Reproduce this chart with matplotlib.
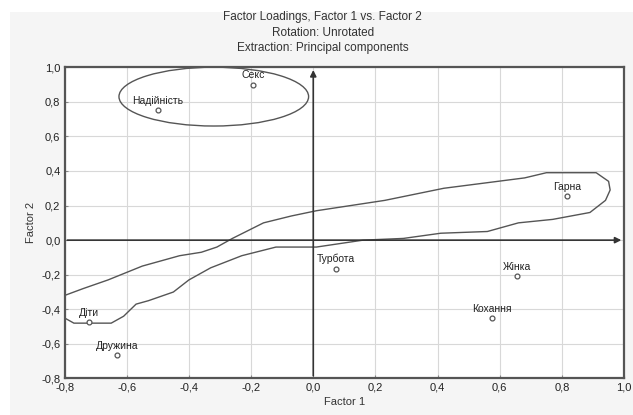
import numpy as np
import matplotlib.pyplot as plt
from matplotlib.patches import Ellipse, Rectangle

plt.rcParams['font.family'] = ['Liberation Sans', 'DejaVu Sans']

# factor loadings
nomes = ['Секс', 'Надійність', 'Гарна', 'Турбота', 'Жінка', 'Кохання', 'Діти', 'Дружина']
f1 = np.array([-0.194, -0.50, 0.815, 0.073, 0.654, 0.576, -0.72, -0.631])
f2 = np.array([0.90, 0.75, 0.254, -0.164, -0.208, -0.45, -0.472, -0.665])

# hand-drawn loop around the diagonal group
laco_x = [-0.82, -0.80, -0.74, -0.66, -0.55, -0.43, -0.36, -0.31, -0.26, -0.16, -0.07, 0.01,
          0.12, 0.23, 0.42, 0.55, 0.68, 0.75, 0.91, 0.95, 0.955, 0.94, 0.89, 0.77, 0.66,
          0.56, 0.41, 0.29, 0.16, 0.01, -0.12, -0.23, -0.33, -0.40, -0.45, -0.53, -0.57,
          -0.61, -0.65, -0.71, -0.77, -0.80, -0.82, -0.82]
laco_y = [-0.33, -0.32, -0.28, -0.23, -0.15, -0.09, -0.07, -0.04, 0.01, 0.10, 0.14, 0.17,
          0.20, 0.23, 0.30, 0.33, 0.36, 0.39, 0.39, 0.34, 0.29, 0.23, 0.16, 0.12, 0.10,
          0.05, 0.04, 0.01, 0.00, -0.04, -0.04, -0.09, -0.16, -0.23, -0.30, -0.35, -0.37,
          -0.44, -0.48, -0.48, -0.48, -0.45, -0.42, -0.33]

xticks = np.round(np.arange(-0.8, 1.01, 0.2), 1) + 0.0
yticks = np.round(np.arange(-0.8, 1.01, 0.2), 1) + 0.0

fig = plt.figure(figsize=(6.33, 4.15), dpi=100, facecolor='white')
fig.patches.append(Rectangle((10/633, 0), 1, 1 - 12/415, transform=fig.transFigure,
                             facecolor='#f5f5f5', edgecolor='none', zorder=-10))
ax = fig.add_axes([0.102, 0.088, 0.884, 0.750])
ax.set_facecolor('white')

ax.set_xlim(-0.8, 1.0)
ax.set_ylim(-0.8, 1.0)
ax.set_xticks(xticks)
ax.set_yticks(yticks)
ax.set_xticklabels([f'{v:.1f}'.replace('.', ',') for v in xticks])
ax.set_yticklabels([f'{v:.1f}'.replace('.', ',') for v in yticks])
ax.tick_params(direction='in', length=2, color='#888888', labelsize=8, labelcolor='#222222', pad=3)
ax.grid(True, color='#d8d8d8', lw=0.8)
ax.set_axisbelow(True)
for s in ax.spines.values():
    s.set_color('#555555')
    s.set_linewidth(1.6)

# eixos com setas
ax.annotate('', xy=(1.0, 0), xytext=(-0.8, 0),
            arrowprops=dict(arrowstyle='-|>', color='#333333', lw=1.2, mutation_scale=9))
ax.annotate('', xy=(0, 1.0), xytext=(0, -0.8),
            arrowprops=dict(arrowstyle='-|>', color='#333333', lw=1.2, mutation_scale=9))

ax.plot(laco_x, laco_y, color='#555555', lw=1.0)
ax.add_patch(Ellipse((-0.32, 0.83), 0.61, 0.34, fill=False, edgecolor='#555555', lw=1.0))

ax.plot(f1, f2, 'o', ms=3.5, mfc='white', mec='#555555', mew=0.9)
for n, x, y in zip(nomes, f1, f2):
    ax.annotate(n, (x, y), xytext=(0, 3), textcoords='offset points', ha='center', va='bottom',
                fontsize=7.5, color='#222222')

fig.text(0.51, 0.96, 'Factor Loadings, Factor 1 vs. Factor 2', ha='center', va='center',
         fontsize=8.5, color='#333333')
fig.text(0.51, 0.921, 'Rotation: Unrotated', ha='center', va='center', fontsize=8.5, color='#333333')
fig.text(0.51, 0.884, 'Extraction: Principal components', ha='center', va='center',
         fontsize=8.5, color='#333333')
ax.set_xlabel('Factor 1', fontsize=8, color='#333333', labelpad=3)
ax.set_ylabel('Factor 2', fontsize=8, color='#333333', labelpad=4)

fig.savefig('out.png', dpi=100, facecolor=fig.get_facecolor())
